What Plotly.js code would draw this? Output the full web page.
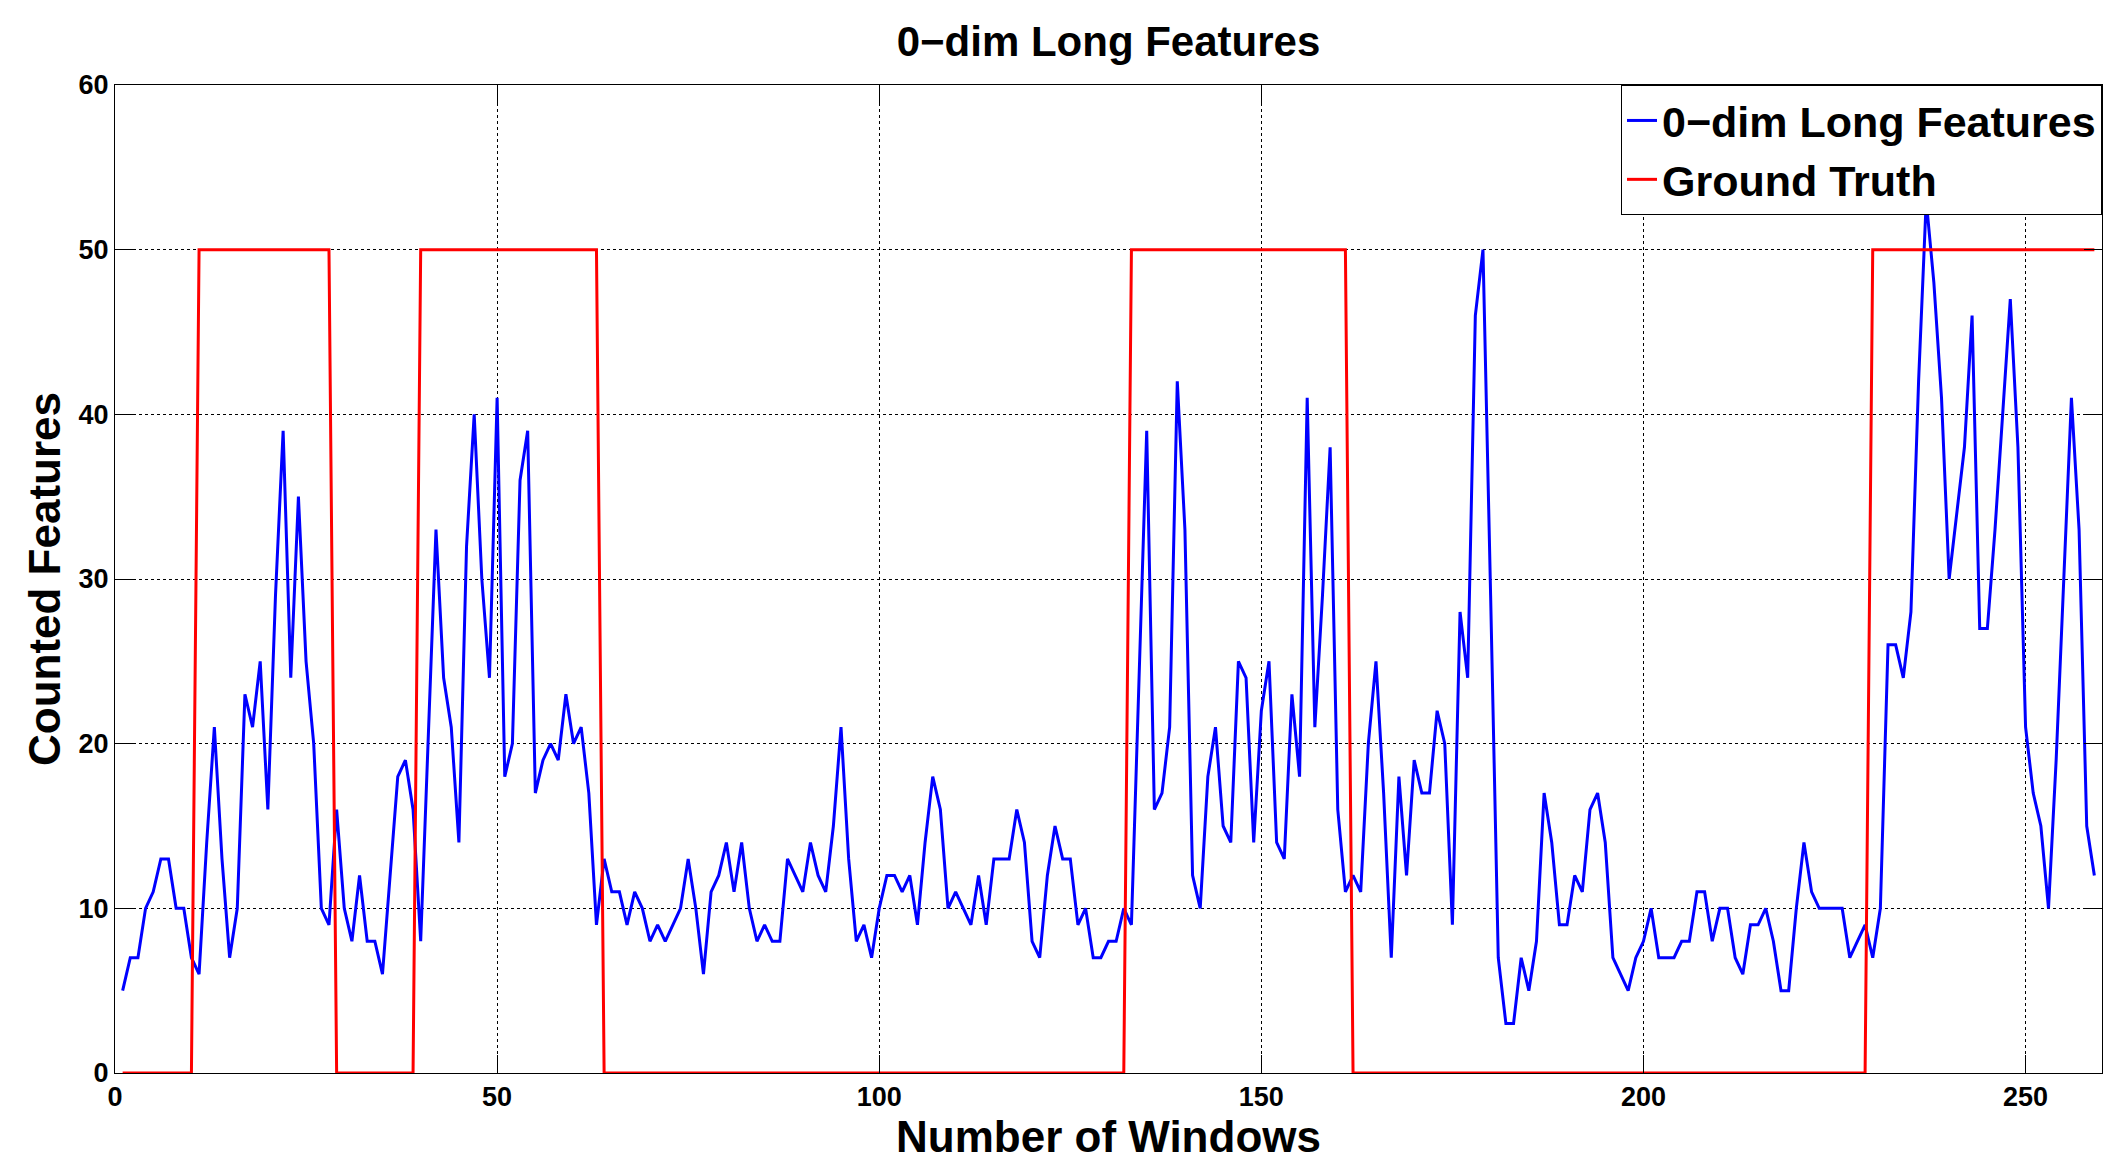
<!DOCTYPE html>
<html>
<head>
<meta charset="utf-8">
<script src="https://cdn.plot.ly/plotly-3.0.1.min.js"></script>
<style>
  html, body { margin: 0; padding: 0; background: #ffffff; }
  #chart { width: 2124px; height: 1172px; }
</style>
</head>
<body>
<div id="chart"></div>
<script>
// ---- data (window index starts at 1) ----
const countedFeatures = [
  5, 7, 7, 10, 11, 13, 13, 10, 10, 7,
  6, 14, 21, 13, 7, 10, 23, 21, 25, 16,
  29, 39, 24, 35, 25, 20, 10, 9, 16, 10,
  8, 12, 8, 8, 6, 12, 18, 19, 16, 8,
  21, 33, 24, 21, 14, 32, 40, 30, 24, 41,
  18, 20, 36, 39, 17, 19, 20, 19, 23, 20,
  21, 17, 9, 13, 11, 11, 9, 11, 10, 8,
  9, 8, 9, 10, 13, 10, 6, 11, 12, 14,
  11, 14, 10, 8, 9, 8, 8, 13, 12, 11,
  14, 12, 11, 15, 21, 13, 8, 9, 7, 10,
  12, 12, 11, 12, 9, 14, 18, 16, 10, 11,
  10, 9, 12, 9, 13, 13, 13, 16, 14, 8,
  7, 12, 15, 13, 13, 9, 10, 7, 7, 8,
  8, 10, 9, 24, 39, 16, 17, 21, 42, 33,
  12, 10, 18, 21, 15, 14, 25, 24, 14, 22,
  25, 14, 13, 23, 18, 41, 21, 29, 38, 16,
  11, 12, 11, 20, 25, 17, 7, 18, 12, 19,
  17, 17, 22, 20, 9, 28, 24, 46, 50, 29,
  7, 3, 3, 7, 5, 8, 17, 14, 9, 9,
  12, 11, 16, 17, 14, 7, 6, 5, 7, 8,
  10, 7, 7, 7, 8, 8, 11, 11, 8, 10,
  10, 7, 6, 9, 9, 10, 8, 5, 5, 10,
  14, 11, 10, 10, 10, 10, 7, 8, 9, 7,
  10, 26, 26, 24, 28, 42, 53, 48, 41, 30,
  34, 38, 46, 27, 27, 33, 40, 47, 38, 21,
  17, 15, 10, 19, 30, 41, 33, 15, 12
];

const groundTruth = [
  0, 0, 0, 0, 0, 0, 0, 0, 0, 0,
  50, 50, 50, 50, 50, 50, 50, 50, 50, 50,
  50, 50, 50, 50, 50, 50, 50, 50,
  0, 0, 0, 0, 0, 0, 0, 0, 0, 0,
  0,
  50, 50, 50, 50, 50, 50, 50, 50, 50, 50,
  50, 50, 50, 50, 50, 50, 50, 50, 50, 50,
  50, 50, 50, 50,
  0, 0, 0, 0, 0, 0, 0, 0, 0, 0,
  0, 0, 0, 0, 0, 0, 0, 0, 0, 0,
  0, 0, 0, 0, 0, 0, 0, 0, 0, 0,
  0, 0, 0, 0, 0, 0, 0, 0, 0, 0,
  0, 0, 0, 0, 0, 0, 0, 0, 0, 0,
  0, 0, 0, 0, 0, 0, 0, 0, 0, 0,
  0, 0, 0, 0, 0, 0, 0, 0, 0,
  50, 50, 50, 50, 50, 50, 50, 50, 50, 50,
  50, 50, 50, 50, 50, 50, 50, 50, 50, 50,
  50, 50, 50, 50, 50, 50, 50, 50, 50,
  0, 0, 0, 0, 0, 0, 0, 0, 0, 0,
  0, 0, 0, 0, 0, 0, 0, 0, 0, 0,
  0, 0, 0, 0, 0, 0, 0, 0, 0, 0,
  0, 0, 0, 0, 0, 0, 0, 0, 0, 0,
  0, 0, 0, 0, 0, 0, 0, 0, 0, 0,
  0, 0, 0, 0, 0, 0, 0, 0, 0, 0,
  0, 0, 0, 0, 0, 0, 0, 0,
  50, 50, 50, 50, 50, 50, 50, 50, 50, 50,
  50, 50, 50, 50, 50, 50, 50, 50, 50, 50,
  50, 50, 50, 50, 50, 50, 50, 50, 50, 50
];

const windowIndex = countedFeatures.map((_, i) => i + 1);

const xTickValues = [0, 50, 100, 150, 200, 250];
const yTickValues = [0, 10, 20, 30, 40, 50, 60];

const seriesNames = ['0\u2212dim Long Features', 'Ground Truth'];
const chartTitle = '0\u2212dim Long Features';
const xTitle = 'Number of Windows';
const yTitle = 'Counted Features';

// ---- styling ----
const FONT = 'Liberation Sans, Arial, Helvetica, sans-serif';

const traces = [
  {
    x: windowIndex, y: countedFeatures, type: 'scatter', mode: 'lines',
    name: seriesNames[0],
    line: { color: '#0000ff', width: 3 }
  },
  {
    x: windowIndex, y: groundTruth, type: 'scatter', mode: 'lines',
    name: seriesNames[1],
    line: { color: '#ff0000', width: 3 }
  }
];

const axisCommon = {
  showline: true, linecolor: '#000000', linewidth: 1,
  mirror: 'allticks',
  ticks: 'inside', ticklen: 18, tickwidth: 1, tickcolor: '#000000',
  showgrid: true, gridcolor: '#000000', gridwidth: 1, griddash: 'dot',
  zeroline: false,
  tickfont: { family: FONT, size: 27, color: '#000000', weight: 'bold' }
};

const layout = {
  width: 2124, height: 1172,
  paper_bgcolor: '#ffffff', plot_bgcolor: '#ffffff',
  margin: { l: 115, r: 22, t: 85, b: 99, pad: 0 },
  font: { family: FONT, color: '#000000', weight: 'bold' },
  title: {
    text: chartTitle,
    x: 0.5, xanchor: 'center', xref: 'paper',
    y: 1 - 41 / 1172, yanchor: 'middle', yref: 'container',
    font: { family: FONT, size: 42, color: '#000000', weight: 'bold' }
  },
  xaxis: Object.assign({}, axisCommon, {
    range: [0, 260], tickmode: 'array', tickvals: xTickValues,
    title: { text: xTitle, standoff: 0,
      font: { family: FONT, size: 44, color: '#000000', weight: 'bold' } }
  }),
  yaxis: Object.assign({}, axisCommon, {
    range: [0, 60], tickmode: 'array', tickvals: yTickValues,
    title: { text: yTitle, standoff: 4,
      font: { family: FONT, size: 44, color: '#000000', weight: 'bold' } }
  }),
  showlegend: true,
  legend: {
    x: 1, xanchor: 'right', xref: 'paper',
    y: 1, yanchor: 'top', yref: 'paper',
    bgcolor: '#ffffff', bordercolor: '#000000', borderwidth: 1,
    font: { family: FONT, size: 43, color: '#000000', weight: 'bold' },
    tracegroupgap: 0
  }
};

Plotly.newPlot('chart', traces, layout, { displayModeBar: false, staticPlot: true });
</script>
</body>
</html>
